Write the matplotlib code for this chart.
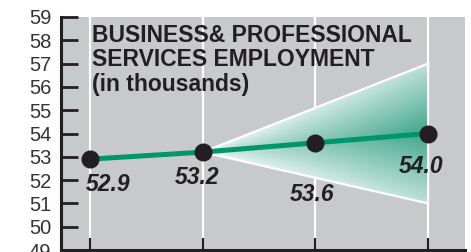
import numpy as np
import matplotlib
matplotlib.use("Agg")
import matplotlib.pyplot as plt
from matplotlib.patches import Polygon

plt.rcParams['font.family'] = ['Liberation Sans', 'DejaVu Sans']

# data
x_pos = [0, 1, 2, 3]
values = [52.9, 53.2, 53.6, 54.0]
labels = ["52.9", "53.2", "53.6", "54.0"]
cone_start = 1          # forecast cone opens at the 2nd point
cone_hi = 57.0
cone_lo = 51.0
yticks = list(range(49, 60))
title = "BUSINESS& PROFESSIONAL\nSERVICES EMPLOYMENT\n(in thousands)"

gray = "#c8c9cb"
green = "#00966c"
ink = "#231f20"

fig = plt.figure(figsize=(4.71, 2.52), dpi=100)
ax = fig.add_axes([61/471, 2/252, 404/471, 233/252])
ax.set_facecolor(gray)
ax.set_xlim(-0.257, 3.328)
ax.set_ylim(49, 59)

# white vertical guides
ax.vlines(x_pos, 49.5, 59, color="white", lw=1.6, zorder=1)

# forecast cone with gradient
x0, y0 = x_pos[cone_start], values[cone_start]
x1 = x_pos[-1]
verts = [(x0, y0), (x1, cone_hi), (x1, cone_lo)]
poly = Polygon(verts, closed=True, facecolor="none", edgecolor="white", lw=1.6, zorder=4)
ax.add_patch(poly)

nx, ny = 200, 200
gx = np.linspace(0, 1, nx)
gy = np.linspace(cone_lo, cone_hi, ny)
GX, GY = np.meshgrid(gx, gy)
half = (cone_hi - cone_lo) / 2 * GX + 1e-6
mid = y0 + (values[-1] - y0) * GX
r = np.clip(np.abs(GY - mid) / half, 0, 1)
a = (0.25 + 0.65 * GX) * (1 - 0.65 * r)
base = np.array(matplotlib.colors.to_rgb("#2a9c7d"))
img = np.ones((ny, nx, 3)) * (1 - a[..., None]) + base * a[..., None]
im = ax.imshow(img, extent=[x0, x1, cone_lo, cone_hi], origin="lower",
               aspect="auto", zorder=3, interpolation="bilinear")
im.set_clip_path(poly)

# main line and points
ax.plot(x_pos, values, color=green, lw=3.6, zorder=5, solid_capstyle="butt")
ax.plot(x_pos, values, "o", color=ink, ms=12, zorder=6)

offsets = [(13, -18.5), (-4, -18.5), (-2, -37), (-5, -24)]
for xp, v, lab, off in zip(x_pos, values, labels, offsets):
    ax.annotate(lab, (xp, v), xytext=off, textcoords="offset points",
                ha="center", va="center", fontsize=16.5, fontweight="bold",
                fontstyle="italic", color=ink, zorder=7)

fig.text(92/471, 1 - 24/252, title, ha="left", va="top", fontsize=16.5,
         fontweight="bold", color=ink, linespacing=1.08)

# axes styling
for s in ["top", "right"]:
    ax.spines[s].set_visible(False)
ax.spines["left"].set_linewidth(2.2)
ax.spines["bottom"].set_linewidth(2.2)
ax.spines["left"].set_color(ink)
ax.spines["bottom"].set_color(ink)
ax.set_yticks(yticks)
ax.tick_params(axis="y", direction="in", length=12, width=2, color=ink,
               labelsize=14.5, pad=7, labelcolor="#333333")
ax.set_xticks(x_pos)
ax.set_xticklabels([])
ax.tick_params(axis="x", direction="in", length=8.5, width=1.5, color=ink)

fig.savefig("out.png", dpi=100, facecolor="white")
